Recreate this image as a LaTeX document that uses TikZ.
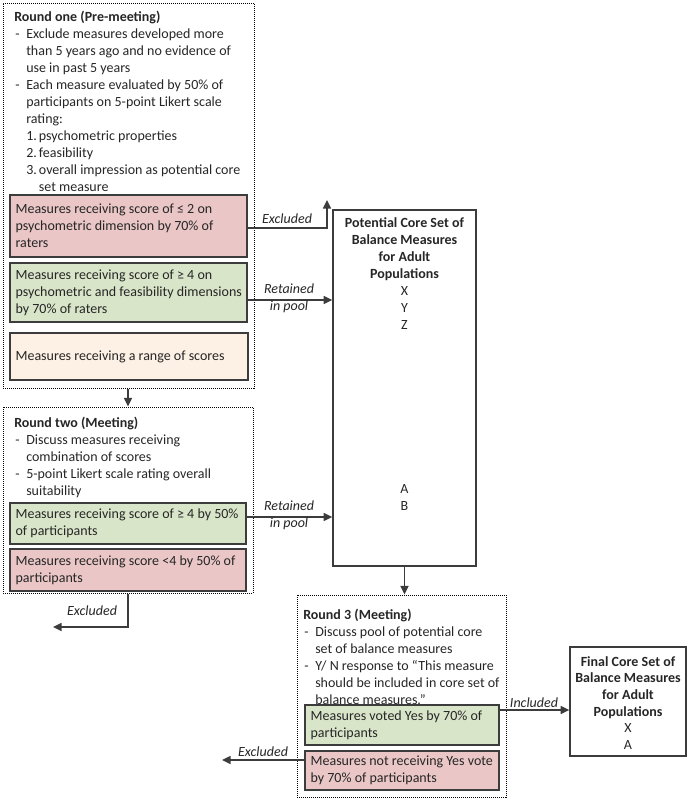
\documentclass[tikz,border=0pt]{standalone}
\usepackage{fontspec}
\setmainfont{Carlito}
\usetikzlibrary{arrows.meta,fit}
\definecolor{redf}{HTML}{EAC6C6}
\definecolor{greenf}{HTML}{D9E5C9}
\definecolor{peachf}{HTML}{FDF0E4}
\definecolor{edgec}{HTML}{3C3C3C}
\definecolor{txt}{HTML}{262626}
\newcommand\dsh{\makebox[9pt][l]{\hspace{0.8pt}-}}
\newcommand\ind{\hspace*{9pt}}
\newcommand\nm[1]{\makebox[9.5pt][l]{#1}}
\begin{document}
\begin{tikzpicture}[x=0.75pt,y=-0.75pt,
  every node/.style={text=txt, font=\fontsize{10.5pt}{12.75pt}\selectfont},
  roundbox/.style={draw=black, line width=0.75pt, dash pattern=on 0.75pt off 0.75pt, inner sep=0pt},
  outcome/.style={draw=edgec, line width=1pt, inner sep=0pt},
  corebox/.style={draw=edgec, line width=1pt, inner sep=0pt},
  intext/.style={anchor=west, align=left, inner sep=0pt},
  roundtext/.style={anchor=north west, align=left, inner sep=0pt},
  coretext/.style={anchor=north, align=center, inner sep=0pt},
  lbl/.style={font=\fontsize{10.5pt}{12.75pt}\selectfont\itshape, align=center, inner sep=0pt},
  arr/.style={draw=edgec, line width=1.1pt, -{Triangle[length=6.5pt,width=6pt]}}
]
\useasboundingbox (0,0) rectangle (689,800);

% ---------- Round one ----------
\node[roundbox, fit={(3,3) (254,388)}] (r1) {};
\node[roundtext] (r1t) at (14,10.5) {\textbf{Round one (Pre-meeting)}\\
\dsh Exclude measures developed more\\
\ind than 5 years ago and no evidence of\\
\ind use in past 5 years\\
\dsh Each measure evaluated by 50\% of\\
\ind participants on 5-point Likert scale\\
\ind rating:\\
\ind\nm{1.}psychometric properties\\
\ind\nm{2.}feasibility\\
\ind\nm{3.}overall impression as potential core\\
\ind\nm{}set measure};

\node[outcome, fill=redf, fit={(10,195) (247,257)}] (red1) {};
\node[intext] (red1t) at ([xshift=4.5pt]red1.west) {Measures receiving score of ≤ 2 on\\
psychometric dimension by 70\% of\\
raters};
\node[outcome, fill=greenf, fit={(10,263) (247,322)}] (green1) {};
\node[intext] (green1t) at ([xshift=4.5pt]green1.west) {Measures receiving score of ≥ 4 on\\
psychometric and feasibility dimensions\\
by 70\% of raters};
\node[outcome, fill=peachf, fit={(10,333) (248,380)}] (peach1) {};
\node[intext] (peach1t) at ([xshift=4.5pt]peach1.west) {Measures receiving a range of scores};

% ---------- Round two ----------
\node[roundbox, fit={(3,407) (253,593)}] (r2) {};
\node[roundtext] (r2t) at (14,416.5) {\textbf{Round two (Meeting)}\\
\dsh Discuss measures receiving\\
\ind combination of scores\\
\dsh 5-point Likert scale rating overall\\
\ind suitability};
\node[outcome, fill=greenf, fit={(10,503) (246,544)}] (green2) {};
\node[intext] (green2t) at ([xshift=4.5pt]green2.west) {Measures receiving score of ≥ 4 by 50\%\\
of participants};
\node[outcome, fill=redf, fit={(10,549) (246,591)}] (red2) {};
\node[intext] (red2t) at ([xshift=4.5pt]red2.west) {Measures receiving score <4 by 50\% of\\
participants};

% ---------- Round 3 ----------
\node[roundbox, fit={(297,595) (506,797)}] (r3) {};
\node[roundtext] (r3t) at (303,608.5) {\textbf{Round 3 (Meeting)}\\
\dsh Discuss pool of potential core\\
\ind set of balance measures\\
\dsh Y/ N response to “This measure\\
\ind should be included in core set of\\
\ind balance measures.”};
\node[outcome, fill=greenf, fit={(305,705) (499,745)}] (green3) {};
\node[intext] (green3t) at ([xshift=4.5pt]green3.west) {Measures voted Yes by 70\% of\\
participants};
\node[outcome, fill=redf, fit={(305,751) (499,790)}] (red3) {};
\node[intext] (red3t) at ([xshift=4.5pt]red3.west) {Measures not receiving Yes vote\\
by 70\% of participants};

% ---------- Core sets ----------
\node[corebox, fit={(333,210) (476,566)}] (pot) {};
\node[coretext] (pott) at (404.5,217) {\textbf{Potential Core Set of}\\
\textbf{Balance Measures}\\
\textbf{for Adult}\\
\textbf{Populations}\\
X\\ Y\\ Z};
\node[coretext] (potab) at (404.5,484) {A\\ B};

\node[corebox, fit={(570,647) (686,756)}] (fin) {};
\node[coretext, font=\fontsize{10.5pt}{12.5pt}\selectfont] (fint) at (628,656) {\textbf{Final Core Set of}\\
\textbf{Balance Measures}\\
\textbf{for Adult}\\
\textbf{Populations}\\
X\\ A};

% ---------- Connectors ----------
\coordinate (exc1) at (327,200);
\draw[arr] (red1.east |- 0,228) -| (exc1);
\node[lbl] (lexc1) at (287,218.5) {Excluded};

\draw[arr] (green1.east |- 0,300) -- (pot.west |- 0,300);
\node[lbl] (lret1) at (289,298.5) {Retained\\in pool};

\draw[arr] (r2.north |- r1.south) -- (r2.north);

\draw[arr] (green2.east |- 0,517) -- (pot.west |- 0,517);
\node[lbl] (lret2) at (289,515.5) {Retained\\in pool};

\coordinate (exc2) at (53,627);
\draw[arr] (r2.south) |- (exc2);
\node[lbl] (lexc2) at (92,610.5) {Excluded};

\draw[arr] (pot.south) -- (pot.south |- r3.north);

\draw[arr] (green3.east |- 0,710) -- (fin.west |- 0,710);
\node[lbl] (linc) at (534,703) {Included};

\coordinate (exc3) at (222,760);
\draw[arr] (red3.west |- 0,760) -- (exc3);
\node[lbl] (lexc3) at (263,751.5) {Excluded};
\end{tikzpicture}
\end{document}
